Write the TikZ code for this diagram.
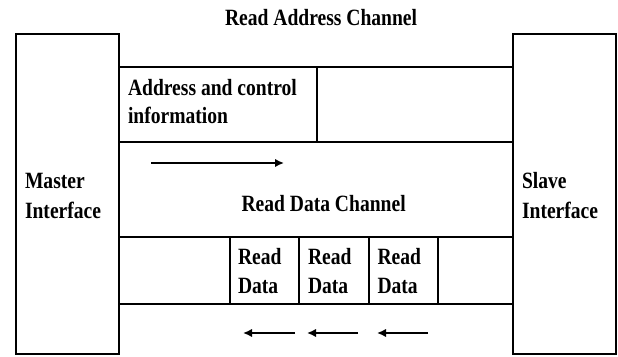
\documentclass[tikz,border=0pt]{standalone}
\usepackage{fontspec}
\setmainfont{Liberation Serif}[FakeStretch=0.84]
\usetikzlibrary{arrows.meta}
\begin{document}
\begin{tikzpicture}[x=1pt,y=-1pt,
  box/.style={draw, line width=2.8pt, inner sep=0pt, outer sep=0pt, anchor=north west},
  lbl/.style={inner sep=0pt, outer sep=0pt, anchor=base west, font=\fontsize{23.3}{28}\selectfont\bfseries},
  flow/.style={line width=2.8pt, -{Latex[length=9pt,width=8.5pt]}}]
\useasboundingbox (0,0) rectangle (618,356);
% interfaces
\node[box, minimum width=103pt, minimum height=320pt] (master) at (16,34) {};
\node[box, minimum width=103pt, minimum height=320pt] (slave) at (513,34) {};
% read address channel
\node[box, minimum width=198pt, minimum height=75pt] (addr) at (119,67) {};
\node[box, minimum width=196pt, minimum height=75pt] (addrfree) at (317,67) {};
% read data channel
\node[box, minimum width=111pt, minimum height=67pt] (d0) at (119,237) {};
\node[box, minimum width=69pt, minimum height=67pt] (d1) at (230,237) {};
\node[box, minimum width=70pt, minimum height=67pt] (d2) at (299,237) {};
\node[box, minimum width=69pt, minimum height=67pt] (d3) at (369,237) {};
\node[box, minimum width=75pt, minimum height=67pt] (d4) at (438,237) {};
% labels
\node[lbl] (ttl) at (225,25) {Read Address Channel};
\node[lbl] (m1) at (25,188) {Master};
\node[lbl] (m2) at (25,218) {Interface};
\node[lbl] (s1) at (522,188) {Slave};
\node[lbl] (s2) at (522,218) {Interface};
\node[lbl] (a1) at (128,95.5) {Address and control};
\node[lbl] (a2) at (128,123) {information};
\node[lbl] (rdc) at (241.5,211.5) {Read Data Channel};
\node[lbl] (r1a) at (238,264.5) {Read};
\node[lbl] (r1b) at (238,293) {Data};
\node[lbl] (r2a) at (308,264.5) {Read};
\node[lbl] (r2b) at (308,293) {Data};
\node[lbl] (r3a) at (377.5,264.5) {Read};
\node[lbl] (r3b) at (377.5,293) {Data};
% arrows
\coordinate (ra0) at (151,163);
\coordinate (ra1) at (284,163);
\coordinate (la0) at (295,333);
\coordinate (la1) at (243,333);
\coordinate (lb0) at (358,333);
\coordinate (lb1) at (307,333);
\coordinate (lc0) at (428,333);
\coordinate (lc1) at (377,333);
\draw[flow] (ra0) -- (ra1);
\draw[flow] (la0) -- (la1);
\draw[flow] (lb0) -- (lb1);
\draw[flow] (lc0) -- (lc1);
\end{tikzpicture}
\end{document}
